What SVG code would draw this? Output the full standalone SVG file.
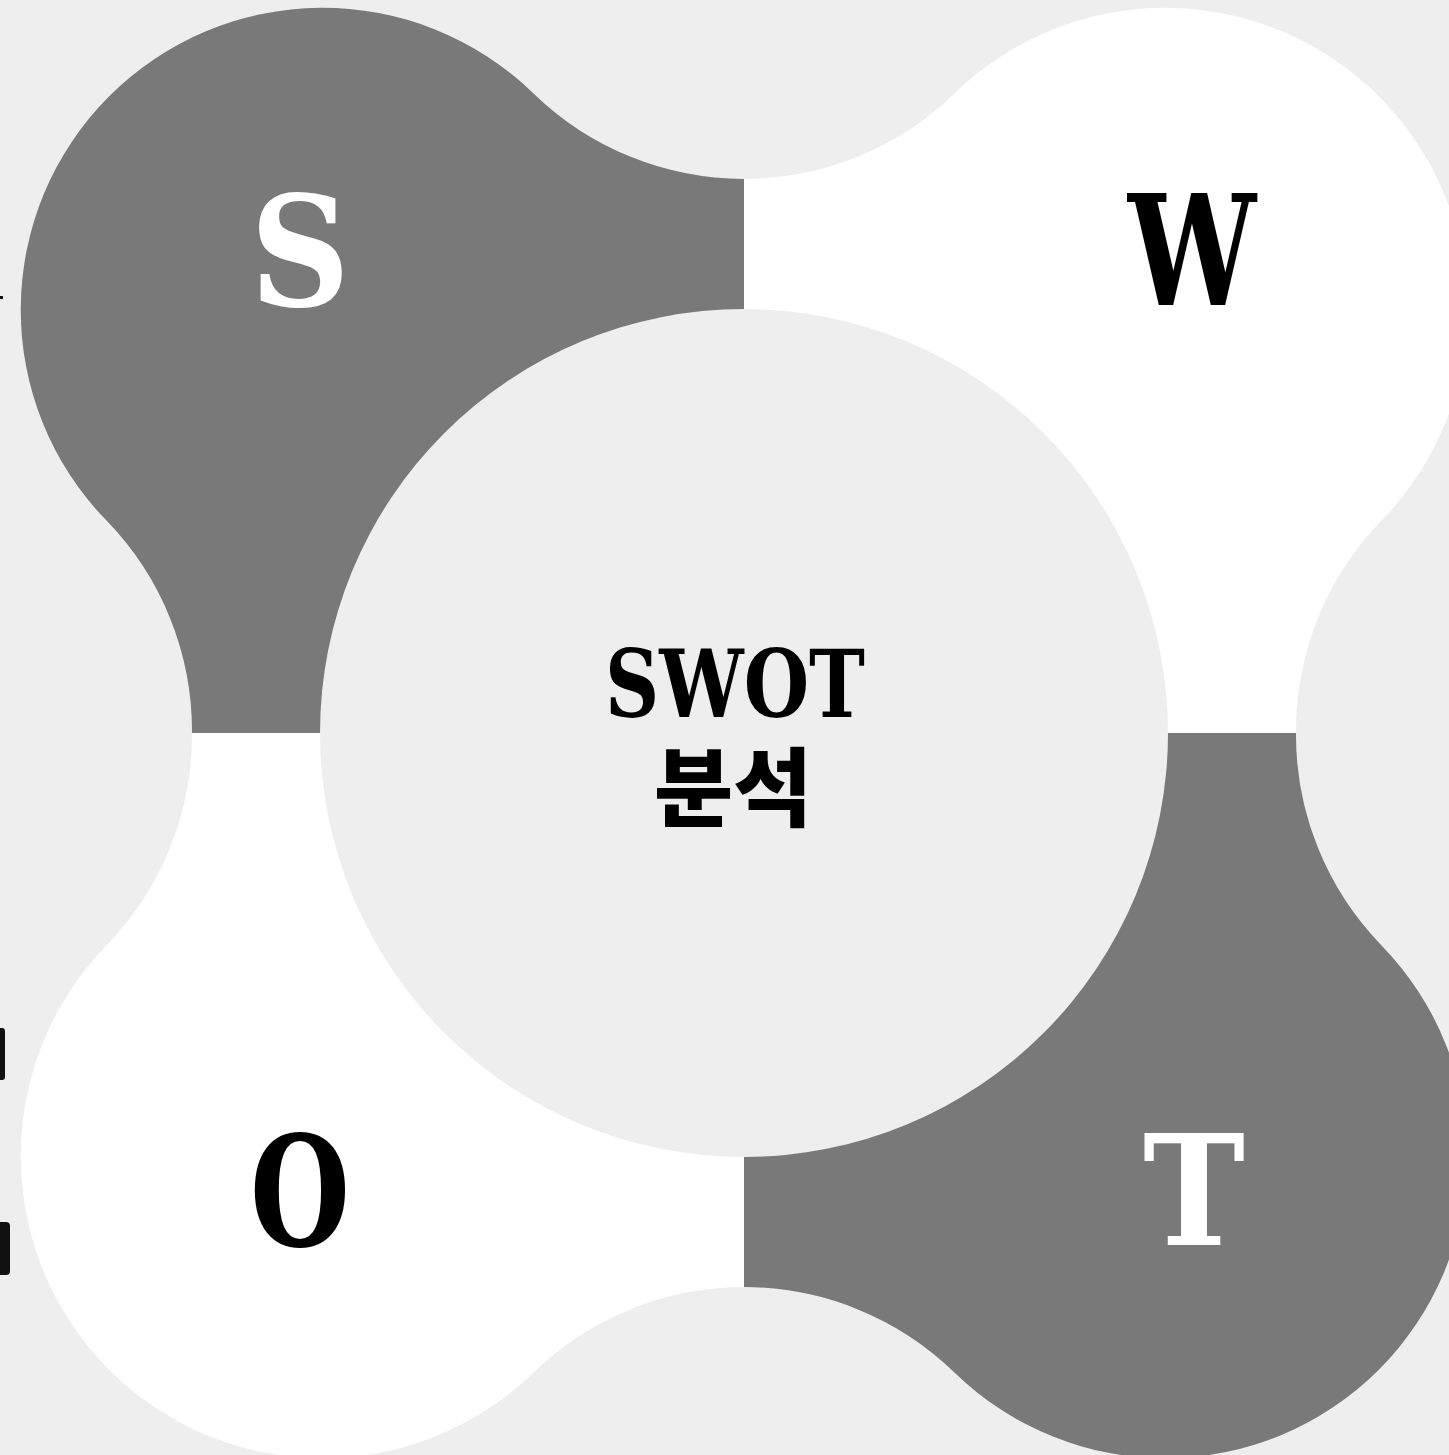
<svg xmlns="http://www.w3.org/2000/svg" width="1449" height="1455" viewBox="0 0 1449 1455">
<style>
.dark{fill:#797979}
.light{fill:#ffffff}
.letter{font-family:"DejaVu Serif","Liberation Serif",serif;font-weight:bold;font-size:153px;text-anchor:middle}
.center{font-family:"DejaVu Serif","Liberation Serif",serif;font-weight:bold;font-size:93px;text-anchor:middle;fill:#000}
.ko{font-family:"Noto Sans CJK KR","Noto Sans CJK SC",sans-serif;font-weight:900;font-size:86px;text-anchor:middle;fill:#000}
.frag{fill:#111}
</style>
<rect width="1449" height="1455" fill="#eeeeee"/>
<g id="node-S">
<path class="dark" d="M 744 733 L 192 733 A 302 302 0 0 0 106.5 520.6 A 302 302 0 0 1 533 93 A 302 302 0 0 0 744 178.9 Z"/>
</g>
<g id="node-W">
<path class="light" d="M 744 733 L 1296 733 A 302 302 0 0 1 1381.5 520.6 A 302 302 0 0 0 955 93 A 302 302 0 0 1 744 178.9 Z"/>
</g>
<g id="node-O">
<path class="light" d="M 744 733 L 192 733 A 302 302 0 0 1 106.5 945.4 A 302 302 0 0 0 533 1373 A 302 302 0 0 1 744 1287.1 Z"/>
</g>
<g id="node-T">
<path class="dark" d="M 744 733 L 1296 733 A 302 302 0 0 0 1381.5 945.4 A 302 302 0 0 1 955 1373 A 302 302 0 0 0 744 1287.1 Z"/>
</g>
<g id="node-center">
<circle cx="744" cy="733" r="424" fill="#eeeeee"/>
<text class="center" x="735" y="717" textLength="260" lengthAdjust="spacingAndGlyphs">SWOT</text>
<text class="ko" x="733" y="820">분석</text>
</g>
<g id="labels">
<text class="letter" x="300" y="306" fill="#ffffff" textLength="100" lengthAdjust="spacingAndGlyphs">S</text>
<text class="letter" x="1192" y="305" fill="#000000" textLength="128" lengthAdjust="spacingAndGlyphs">W</text>
<text class="letter" x="300" y="1246" fill="#000000" textLength="100" lengthAdjust="spacingAndGlyphs">O</text>
<text class="letter" x="1194" y="1245" fill="#ffffff" textLength="102" lengthAdjust="spacingAndGlyphs">T</text>
</g>
<g id="connectors"></g>
<g id="edge-fragments">
<rect class="frag" x="0" y="296" width="3" height="3"/>
<rect class="frag" x="-4" y="1028" width="9" height="52" rx="3"/>
<rect class="frag" x="-4" y="1222" width="14" height="53" rx="4"/>
</g>
</svg>
